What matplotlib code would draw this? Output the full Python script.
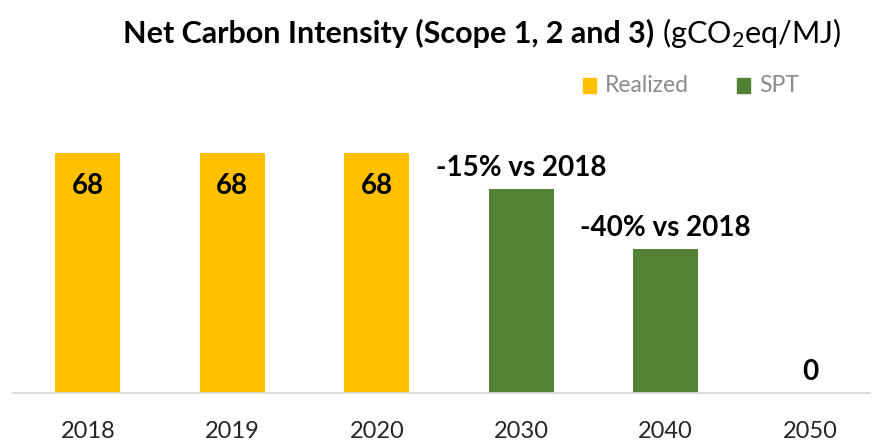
import matplotlib.pyplot as plt
from matplotlib.patches import Rectangle

YEARS = ["2018", "2019", "2020", "2030", "2040", "2050"]
VALUES = [68, 68, 68, 57.8, 40.8, 0]
KIND = ["Realized", "Realized", "Realized", "SPT", "SPT", "SPT"]
LABELS = ["68", "68", "68", "-15% vs 2018", "-40% vs 2018", "0"]

COLORS = {"Realized": "#FFC000", "SPT": "#548235"}
FONT = ["Lato", "DejaVu Sans"]

plt.rcParams["mathtext.fontset"] = "custom"
plt.rcParams["mathtext.rm"] = "Lato"
plt.rcParams["mathtext.it"] = "Lato:italic"
plt.rcParams["mathtext.bf"] = "Lato:bold"


def main():
    fig = plt.figure(figsize=(8.72, 4.43), dpi=100)
    # axes placed by pixel: baseline at y=393, left 13, right 870
    ax = fig.add_axes([13 / 872, 1 - 393 / 443, (870 - 13) / 872, (393 - 140) / 443])

    xs = list(range(len(YEARS)))
    colors = [COLORS[k] for k in KIND]
    ax.bar(xs, VALUES, width=0.45, color=colors)

    ax.set_xlim(-0.519, 5.415)
    ax.set_ylim(0, 71.7)

    # value labels: inside top for realized, above for targets
    for x, v, k, lab in zip(xs, VALUES, KIND, LABELS):
        if k == "Realized":
            off = -24
        else:
            off = 15
        ax.annotate(lab, (x, v), xytext=(0, off), textcoords="offset points",
                    ha="center", va="center", fontsize=20, fontweight="bold",
                    family=FONT, color="black")

    for s in ["top", "right", "left"]:
        ax.spines[s].set_visible(False)
    ax.spines["bottom"].set_color("#d9d9d9")
    ax.spines["bottom"].set_linewidth(1.3)
    ax.set_yticks([])
    ax.set_xticks(xs)
    ax.set_xticklabels(YEARS, fontsize=17, family=FONT, color="#262626")
    ax.tick_params(axis="x", length=0, pad=20)

    # title, bold part then normal part
    t1 = fig.text(123 / 872, 1 - 33 / 443, "Net Carbon Intensity (Scope 1, 2 and 3) ",
                  fontsize=22, fontweight="bold", family=FONT, va="center", ha="left")
    fig.canvas.draw()
    bb = t1.get_window_extent()
    fig.text(bb.x1 / 872, 1 - 33 / 443, r"(gCO$_\mathregular{2}$eq/MJ)", fontsize=22,
             family=FONT, va="center", ha="left")

    # legend drawn by hand to match position
    for px, name in [(588, "Realized"), (742, "SPT")]:
        fig.patches.append(Rectangle((px / 872 - 0.006, 1 - 93 / 443), 13 / 872, 15 / 443,
                                     transform=fig.transFigure, color=COLORS[name]))
        fig.text((px + 17) / 872, 1 - 85 / 443, name, fontsize=16.5, family=FONT,
                 color="#8c8c8c", va="center", ha="left")

    fig.savefig("out.png", dpi=100)


main()
